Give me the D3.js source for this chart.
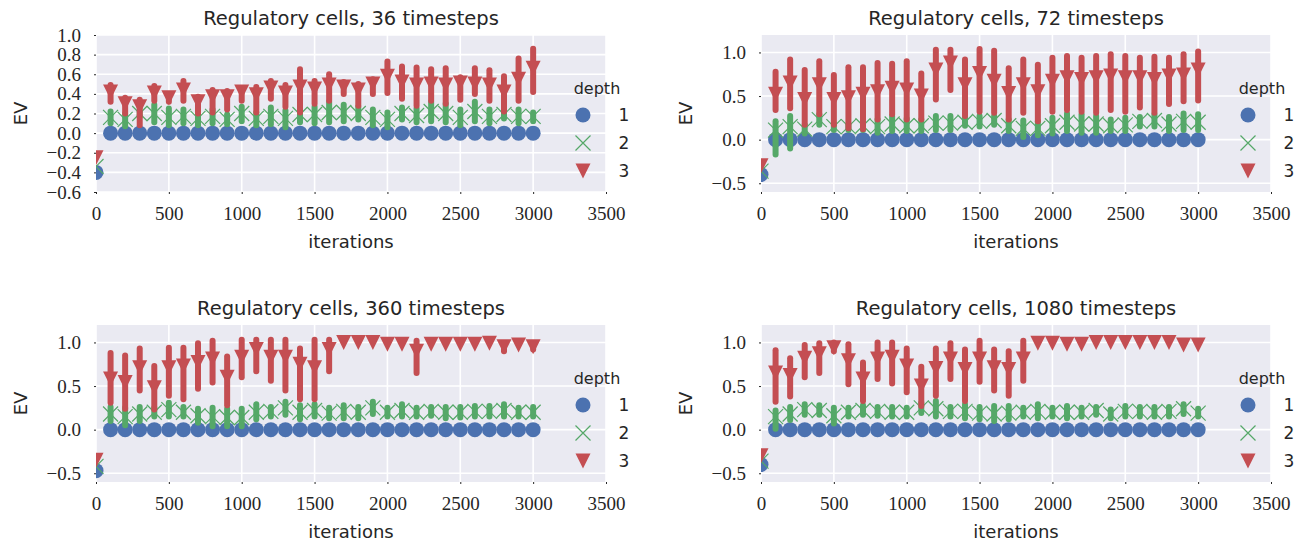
<!DOCTYPE html>
<html>
<head>
<meta charset="utf-8">
<script src="https://cdn.jsdelivr.net/npm/d3@7"></script>
<style>
  html, body { margin: 0; padding: 0; background: #ffffff; }
  svg { display: block; }
</style>
</head>
<body>
<svg id="chart" width="1302" height="544"></svg>
<script>
// ---------------- DATA ----------------
const iterations = [0,100,200,300,400,500,600,700,800,900,1000,1100,1200,1300,1400,1500,
  1600,1700,1800,1900,2000,2100,2200,2300,2400,2500,2600,2700,2800,2900,3000];
const xTicks = [0,500,1000,1500,2000,2500,3000,3500];
const depthLevels = ["1","2","3"];
const titles = ["Regulatory cells, 36 timesteps","Regulatory cells, 72 timesteps",
  "Regulatory cells, 360 timesteps","Regulatory cells, 1080 timesteps"];
const yTicks36 = [-0.6,-0.4,-0.2,0.0,0.2,0.4,0.6,0.8,1.0];
const yTicksOther = [-0.5,0.0,0.5,1.0];
const yDomain36 = [-0.6,1.0];
const yDomainOther = [-0.6,1.2];

// 36 timesteps
const t36_d1 = [-0.40,0,0,0,0,0,0,0,0,0,0,0,0,0,0,0,0,0,0,0,0,0,0,0,0,0,0,0,0,0,0];
const t36_d2 = [-0.34,0.16,0.14,0.20,0.20,0.16,0.17,0.15,0.17,0.14,0.20,0.15,0.17,0.15,0.19,0.19,0.21,0.21,0.20,0.16,0.14,0.20,0.18,0.22,0.20,0.16,0.22,0.17,0.19,0.17,0.17];
const t36_d2_lo = [-0.34,0.10,0.07,0.17,0.11,0.08,0.10,0.08,0.10,0.09,0.12,0.08,0.09,0.06,0.11,0.10,0.11,0.12,0.14,0.08,0.06,0.14,0.11,0.12,0.11,0.08,0.12,0.10,0.15,0.10,0.12];
const t36_d2_hi = [-0.34,0.22,0.20,0.22,0.29,0.25,0.24,0.21,0.24,0.19,0.27,0.21,0.26,0.23,0.27,0.27,0.32,0.29,0.27,0.24,0.21,0.26,0.25,0.32,0.30,0.24,0.32,0.24,0.24,0.24,0.21];
const t36_d3 = [-0.25,0.42,0.30,0.27,0.41,0.36,0.44,0.32,0.37,0.37,0.42,0.39,0.46,0.41,0.47,0.45,0.49,0.47,0.44,0.50,0.58,0.52,0.49,0.50,0.49,0.51,0.50,0.49,0.42,0.55,0.66];
const t36_d3_lo = [-0.25,0.32,0.20,0.08,0.33,0.32,0.33,0.20,0.21,0.24,0.33,0.21,0.35,0.27,0.21,0.30,0.33,0.40,0.28,0.40,0.41,0.35,0.28,0.33,0.30,0.34,0.40,0.33,0.22,0.33,0.42];
const t36_d3_hi = [-0.25,0.49,0.36,0.34,0.48,0.40,0.53,0.37,0.44,0.43,0.45,0.47,0.53,0.49,0.65,0.53,0.60,0.52,0.50,0.55,0.73,0.68,0.67,0.65,0.66,0.57,0.66,0.64,0.58,0.76,0.86];

// 72 timesteps
const t72_d1 = [-0.40,0,0,0,0,0,0,0,0,0,0,0,0,0,0,0,0,0,0,0,0,0,0,0,0,0,0,0,0,0,0];
const t72_d2 = [-0.36,0.11,0.15,0.12,0.23,0.15,0.15,0.16,0.15,0.18,0.16,0.16,0.19,0.19,0.20,0.21,0.22,0.16,0.13,0.13,0.16,0.20,0.18,0.18,0.16,0.17,0.21,0.22,0.18,0.21,0.20];
const t72_d2_lo = [-0.36,-0.17,-0.10,0.07,0.17,0.11,0.11,0.11,0.08,0.10,0.10,0.10,0.11,0.11,0.16,0.15,0.17,0.10,0.03,0.05,0.07,0.10,0.08,0.08,0.10,0.10,0.15,0.15,0.10,0.11,0.11];
const t72_d2_hi = [-0.36,0.21,0.27,0.17,0.29,0.18,0.18,0.20,0.23,0.27,0.24,0.23,0.27,0.27,0.25,0.27,0.27,0.23,0.22,0.21,0.25,0.30,0.29,0.27,0.23,0.25,0.26,0.29,0.26,0.30,0.29];
const t72_d3 = [-0.30,0.52,0.65,0.46,0.63,0.46,0.48,0.52,0.55,0.59,0.57,0.50,0.80,0.88,0.63,0.76,0.67,0.53,0.63,0.55,0.67,0.71,0.69,0.71,0.73,0.71,0.71,0.69,0.73,0.74,0.80];
const t72_d3_lo = [-0.30,0.34,0.36,0.17,0.29,0.17,0.13,0.12,0.23,0.29,0.23,0.23,0.46,0.57,0.27,0.32,0.31,0.23,0.31,0.21,0.32,0.34,0.32,0.31,0.34,0.32,0.37,0.31,0.41,0.44,0.45];
const t72_d3_hi = [-0.30,0.78,0.92,0.80,0.90,0.74,0.83,0.83,0.88,0.87,0.90,0.76,1.03,1.03,0.92,1.04,1.02,0.82,0.92,0.86,0.94,0.96,0.94,0.96,0.98,0.96,0.94,0.95,0.94,0.98,1.01];

// 360 timesteps
const t360_d1 = [-0.47,0,0,0,0,0,0,0,0,0,0,0,0,0,0,0,0,0,0,0,0,0,0,0,0,0,0,0,0,0,0];
const t360_d2 = [-0.42,0.18,0.15,0.18,0.20,0.23,0.20,0.16,0.15,0.14,0.14,0.20,0.21,0.25,0.20,0.22,0.19,0.21,0.20,0.25,0.20,0.22,0.20,0.21,0.20,0.20,0.21,0.21,0.22,0.20,0.20];
const t360_d2_lo = [-0.42,0.10,0.05,0.10,0.15,0.15,0.15,0.08,0.04,0.04,0.04,0.12,0.15,0.17,0.12,0.15,0.13,0.13,0.13,0.18,0.15,0.15,0.15,0.16,0.13,0.14,0.15,0.15,0.15,0.15,0.15];
const t360_d2_hi = [-0.42,0.26,0.25,0.26,0.25,0.31,0.26,0.24,0.25,0.24,0.24,0.29,0.26,0.32,0.28,0.29,0.25,0.28,0.26,0.32,0.25,0.29,0.25,0.26,0.26,0.26,0.27,0.27,0.29,0.25,0.26];
const t360_d3 = [-0.35,0.58,0.54,0.71,0.48,0.71,0.73,0.77,0.81,0.60,0.83,0.92,0.83,0.83,0.75,0.71,0.92,1.00,1.00,1.00,0.98,0.98,0.90,0.98,0.98,0.98,0.98,0.99,0.95,0.97,0.95];
const t360_d3_lo = [-0.35,0.31,0.24,0.45,0.23,0.39,0.35,0.47,0.54,0.28,0.60,0.67,0.56,0.45,0.35,0.35,0.67,1.00,1.00,1.00,0.98,0.98,0.65,0.98,0.98,0.98,0.98,0.99,0.90,0.97,0.92];
const t360_d3_hi = [-0.35,0.88,0.85,0.93,0.73,0.94,0.94,0.99,1.02,0.84,1.03,1.03,1.03,1.03,0.93,1.03,1.03,1.00,1.00,1.00,0.98,0.98,1.02,0.98,0.98,0.98,0.98,0.99,0.99,0.97,0.98];

// 1080 timesteps
const t1080_d1 = [-0.40,0,0,0,0,0,0,0,0,0,0,0,0,0,0,0,0,0,0,0,0,0,0,0,0,0,0,0,0,0,0];
const t1080_d2 = [-0.36,0.15,0.18,0.23,0.22,0.16,0.20,0.22,0.21,0.20,0.20,0.25,0.24,0.21,0.21,0.19,0.18,0.19,0.20,0.21,0.20,0.20,0.20,0.22,0.18,0.21,0.21,0.20,0.21,0.24,0.19];
const t1080_d2_lo = [-0.36,0.01,0.11,0.17,0.17,0.07,0.15,0.17,0.16,0.15,0.15,0.19,0.15,0.15,0.13,0.12,0.10,0.12,0.15,0.13,0.15,0.13,0.15,0.17,0.13,0.15,0.15,0.15,0.15,0.18,0.15];
const t1080_d2_hi = [-0.36,0.22,0.26,0.29,0.28,0.25,0.25,0.28,0.26,0.26,0.25,0.31,0.33,0.26,0.29,0.26,0.27,0.27,0.25,0.29,0.25,0.27,0.25,0.26,0.23,0.27,0.26,0.26,0.26,0.29,0.24];
const t1080_d3 = [-0.30,0.65,0.62,0.82,0.87,0.94,0.79,0.58,0.81,0.83,0.73,0.50,0.70,0.81,0.69,0.81,0.71,0.69,0.81,0.99,0.99,0.98,0.98,1.00,1.00,1.00,1.00,1.00,1.00,0.97,0.97];
const t1080_d3_lo = [-0.30,0.32,0.38,0.60,0.65,0.90,0.52,0.33,0.58,0.53,0.43,0.27,0.39,0.58,0.33,0.55,0.45,0.39,0.56,0.99,0.99,0.98,0.98,1.00,1.00,1.00,1.00,1.00,1.00,0.97,0.97];
const t1080_d3_hi = [-0.30,0.91,0.82,0.97,0.99,1.00,0.98,0.77,1.00,1.00,0.93,0.72,0.93,0.99,0.92,1.02,0.92,0.90,1.02,0.99,0.99,0.98,0.98,1.00,1.00,1.00,1.00,1.00,1.00,0.97,0.97];

// ---------------- DRAW ----------------
const colors = ["#4C72B0", "#55A868", "#C44E52"];
const svg = d3.select("#chart");
const PW = 510, PH = 157, MS = 15;
const tickFont = "'Liberation Serif', 'DejaVu Serif', serif";
const sansFont = "'DejaVu Sans', sans-serif";
const textColor = "#262626";

const panels = [
  {title: titles[0], left: 96, top: 35, dom: yDomain36, ticks: yTicks36,
   series: [[t36_d1, t36_d1, t36_d1], [t36_d2, t36_d2_lo, t36_d2_hi], [t36_d3, t36_d3_lo, t36_d3_hi]]},
  {title: titles[1], left: 761, top: 35, dom: yDomainOther, ticks: yTicksOther,
   series: [[t72_d1, t72_d1, t72_d1], [t72_d2, t72_d2_lo, t72_d2_hi], [t72_d3, t72_d3_lo, t72_d3_hi]]},
  {title: titles[2], left: 96, top: 325, dom: yDomainOther, ticks: yTicksOther,
   series: [[t360_d1, t360_d1, t360_d1], [t360_d2, t360_d2_lo, t360_d2_hi], [t360_d3, t360_d3_lo, t360_d3_hi]]},
  {title: titles[3], left: 761, top: 325, dom: yDomainOther, ticks: yTicksOther,
   series: [[t1080_d1, t1080_d1, t1080_d1], [t1080_d2, t1080_d2_lo, t1080_d2_hi], [t1080_d3, t1080_d3_lo, t1080_d3_hi]]}
];

const fmt1 = d3.format(".1f");
const fmt = v => fmt1(v).replace("-", "\u2212").replace("\u2212", "\u2212");
const symCircle = d3.symbol().type(d3.symbolCircle).size(Math.PI * (MS/2) * (MS/2))();
const xPath = `M${-MS/2},${-MS/2}L${MS/2},${MS/2}M${-MS/2},${MS/2}L${MS/2},${-MS/2}`;
const triPath = `M${-MS/2},${-MS/2}L${MS/2},${-MS/2}L0,${MS/2}Z`;

function drawMarker(g, k, x, y) {
  if (k === 0) {
    g.append("path").attr("d", symCircle).attr("transform", `translate(${x},${y})`)
      .attr("fill", colors[0]);
  } else if (k === 1) {
    g.append("path").attr("d", xPath).attr("transform", `translate(${x},${y})`)
      .attr("fill", "none").attr("stroke", colors[1]).attr("stroke-width", 1.2);
  } else {
    g.append("path").attr("d", triPath).attr("transform", `translate(${x},${y})`)
      .attr("fill", colors[2]);
  }
}

panels.forEach((p, pi) => {
  const x = d3.scaleLinear().domain([0, 3500]).range([p.left, p.left + PW]);
  const y = d3.scaleLinear().domain(p.dom).range([p.top + PH, p.top]);
  const g = svg.append("g");
  const clipId = "clip" + pi;
  svg.append("clipPath").attr("id", clipId).append("rect")
    .attr("x", p.left).attr("y", p.top).attr("width", PW).attr("height", PH);

  // background
  g.append("rect").attr("x", p.left).attr("y", p.top).attr("width", PW).attr("height", PH)
    .attr("fill", "#EAEAF2");
  // grid
  xTicks.forEach(t => {
    g.append("line").attr("x1", x(t)).attr("x2", x(t)).attr("y1", p.top).attr("y2", p.top + PH)
      .attr("stroke", "#fff").attr("stroke-width", 1.6);
  });
  p.ticks.forEach(t => {
    g.append("line").attr("x1", p.left).attr("x2", p.left + PW).attr("y1", y(t)).attr("y2", y(t))
      .attr("stroke", "#fff").attr("stroke-width", 1.6);
  });

  // axes ticks + labels
  const xa = svg.append("g").attr("transform", `translate(0,${p.top + PH})`)
    .call(d3.axisBottom(x).tickValues(xTicks).tickSize(2).tickPadding(13).tickFormat(d3.format("d")));
  xa.select(".domain").remove();
  xa.selectAll("line").attr("stroke", textColor).attr("stroke-width", 1);
  xa.selectAll("text").attr("font-family", tickFont).attr("font-size", 19).attr("fill", textColor);

  const ya = svg.append("g").attr("transform", `translate(${p.left},0)`)
    .call(d3.axisLeft(y).tickValues(p.ticks).tickSize(2).tickPadding(13).tickFormat(fmt));
  ya.select(".domain").remove();
  ya.selectAll("line").attr("stroke", textColor).attr("stroke-width", 1);
  ya.selectAll("text").attr("font-family", tickFont).attr("font-size", 19).attr("fill", textColor);

  // titles & labels
  svg.append("text").attr("x", p.left + PW / 2).attr("y", p.top - 10).attr("text-anchor", "middle")
    .attr("font-family", sansFont).attr("font-size", 19.5).attr("fill", textColor).text(p.title);
  svg.append("text").attr("x", p.left + PW / 2).attr("y", p.top + PH + 56).attr("text-anchor", "middle")
    .attr("font-family", sansFont).attr("font-size", 18).attr("fill", textColor).text("iterations");
  svg.append("text").attr("transform", `translate(${p.left - 69},${p.top + PH / 2}) rotate(-90)`)
    .attr("text-anchor", "middle").attr("font-family", sansFont).attr("font-size", 18)
    .attr("fill", textColor).text("EV");

  // data
  const dg = svg.append("g").attr("clip-path", `url(#${clipId})`);
  p.series.forEach((s, k) => {
    const [mean, lo, hi] = s;
    const mg = dg.append("g");
    iterations.forEach((it, i) => drawMarker(mg, k, x(it), y(mean[i])));
    if (k > 0) {
      const eg = dg.append("g");
      iterations.forEach((it, i) => {
        if (hi[i] - lo[i] > 0.0001) {
          eg.append("line").attr("x1", x(it)).attr("x2", x(it))
            .attr("y1", y(lo[i])).attr("y2", y(hi[i]))
            .attr("stroke", colors[k]).attr("stroke-width", 6).attr("stroke-linecap", "round");
        }
      });
    }
  });

  // legend
  const lg = svg.append("g");
  lg.append("text").attr("x", p.left + 501).attr("y", p.top + 59).attr("text-anchor", "middle")
    .attr("font-family", sansFont).attr("font-size", 16).attr("fill", textColor).text("depth");
  depthLevels.forEach((lv, k) => {
    const ly = p.top + 80 + k * 28;
    drawMarker(lg, k, p.left + 487, ly);
    lg.append("text").attr("x", p.left + 528).attr("y", ly).attr("dy", "0.35em")
      .attr("text-anchor", "middle").attr("font-family", sansFont).attr("font-size", 17)
      .attr("fill", textColor).text(lv);
  });
});
</script>
</body>
</html>
